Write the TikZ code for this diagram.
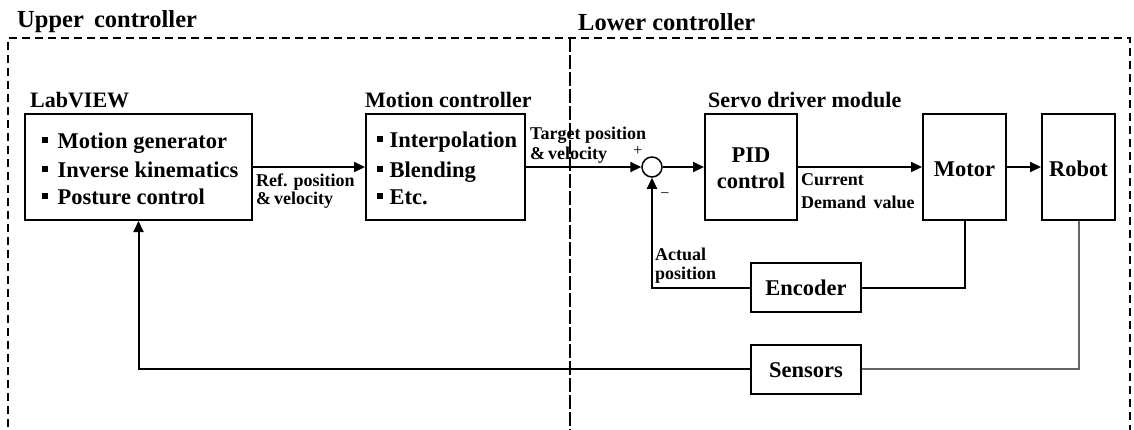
\documentclass[tikz,border=0pt]{standalone}
\usepackage{fontspec}
\setmainfont{Liberation Serif}
\usetikzlibrary{arrows.meta}
\newcommand\sqa{\rule[5pt]{5.5pt}{6.5pt}\hspace{10pt}}
\newcommand\sqb{\rule[5pt]{5.5pt}{6.5pt}\hspace{7pt}}
\begin{document}
\begin{tikzpicture}[x=1pt,y=-1pt,
 box/.style={draw,line width=2pt,inner sep=0pt},
 title/.style={font=\fontsize{24.5}{26}\selectfont\bfseries,inner sep=0pt,anchor=base west},
 lbl/.style={font=\fontsize{22}{24}\selectfont\bfseries,inner sep=0pt,anchor=base west},
 itm/.style={font=\fontsize{22.5}{24}\selectfont\bfseries,inner sep=0pt,anchor=base west},
 inbox/.style={font=\fontsize{22.5}{24}\selectfont\bfseries,inner sep=0pt,anchor=base},
 small/.style={font=\fontsize{18}{20}\selectfont\bfseries,inner sep=0pt,anchor=base west},
 conn/.style={line width=2pt},
 arr/.style={conn,-{Triangle[length=11pt,width=10pt]}},
 outer/.style={line width=2pt,dash pattern=on 8pt off 5pt},
 divider/.style={line width=1.6pt,dash pattern=on 14pt off 3pt}]
\useasboundingbox (0,0) rectangle (1134,429);
\begin{scope}
\clip (0,0) rectangle (1134,429);
\draw[outer] (8,440) -- (8,38) -- (1130,38) -- (1130,440);
\draw[divider] (570,38) -- (570,440);
\end{scope}
% titles
\node[title] (uc) at (17,27) {Upper\hspace{4pt} controller};
\node[title] (lc) at (578,30) {Lower controller};
\node[lbl] (labt) at (30,107) {LabVIEW};
\node[lbl] (mct) at (365,107) {Motion controller};
\node[lbl] (sdt) at (708,107) {Servo driver module};
% boxes
\node[box,minimum width=227pt,minimum height=106pt] (lab) at (138.5,167) {};
\node[box,minimum width=159pt,minimum height=106pt] (mc) at (445.5,167) {};
\node[box,minimum width=92pt,minimum height=106pt] (pid) at (751,167) {};
\node[box,minimum width=83pt,minimum height=106pt] (motor) at (964.5,167) {};
\node[box,minimum width=73pt,minimum height=106pt] (robot) at (1078.5,167) {};
\node[box,minimum width=110pt,minimum height=49pt] (enc) at (806,287.5) {};
\node[box,minimum width=110pt,minimum height=49pt] (sens) at (806,369) {};
\node[draw,circle,line width=1.5pt,minimum size=20pt,inner sep=0pt] (sum) at (652,167) {};
% box texts
\node[itm] (l1) at (42,148) {\sqa Motion generator};
\node[itm] (l2) at (42,177) {\sqa Inverse kinematics};
\node[itm] (l3) at (42,204) {\sqa Posture control};
\node[itm] (m1) at (377,147) {\sqb Interpolation};
\node[itm] (m2) at (377,177) {\sqb Blending};
\node[itm] (m3) at (377,204) {\sqb Etc.};
\node[inbox] (pid1) at (751,162) {PID};
\node[inbox] (pid2) at (751,188) {control};
\node[inbox] (motort) at (964.5,176) {Motor};
\node[inbox] (robott) at (1078.5,176) {Robot};
\node[inbox] (enct) at (806,295) {Encoder};
\node[inbox] (senst) at (806,377) {Sensors};
% connector labels
\node[small] (r1) at (256,186) {Ref. position};
\node[small] (r2) at (256,204) {\&\,velocity};
\node[small] (t1) at (530,139) {Target position};
\node[small] (t2) at (530,159) {\&\,velocity};
\node[small] (c1) at (801,185) {Current};
\node[small] (c2) at (801,208) {Demand\hspace{3pt} value};
\node[small] (a1) at (655,260) {Actual};
\node[small] (a2) at (655,279) {position};
\node[font=\fontsize{16}{18}\selectfont,inner sep=0pt] (plus) at (638,151) {+};
\node[font=\fontsize{16}{18}\selectfont,inner sep=0pt] (minus) at (665,196) {−};
% connectors
\draw[arr] (lab.east) -- (mc.west);
\draw[arr] (mc.east) -- (sum.west);
\draw[arr] (sum.east) -- (pid.west);
\draw[arr] (pid.east) -- (motor.west);
\draw[arr] (motor.east) -- (robot.west);
\draw[conn] (motor.south) |- (enc.east);
\draw[arr] (enc.west) -| (sum.south);
\draw[conn,draw=black!60] (robot.south) |- (sens.east);
\draw[arr] (sens.west) -| (lab.south);
\end{tikzpicture}
\end{document}
